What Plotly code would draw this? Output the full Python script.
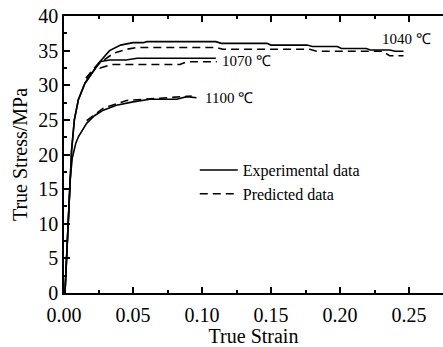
import plotly.graph_objects as go

# 1040 °C
strain_1040_exp = [0.0007, 0.0055, 0.0075, 0.0104, 0.0152, 0.0212, 0.026, 0.033, 0.041, 0.05, 0.0575,
                   0.06, 0.11, 0.114, 0.147, 0.15, 0.176, 0.18, 0.198, 0.201, 0.219, 0.222, 0.236, 0.24, 0.246]
stress_1040_exp = [0, 20.6, 25.0, 27.9, 30.3, 32.0, 33.4, 35.0, 35.8, 36.15, 36.15,
                   36.3, 36.3, 36.05, 36.05, 35.8, 35.8, 35.6, 35.6, 35.3, 35.3, 35.1, 35.1, 34.9, 34.9]
strain_1040_pred = [0.016, 0.021, 0.026, 0.0357, 0.0454, 0.0527, 0.1107, 0.115, 0.178, 0.183, 0.231, 0.236, 0.246]
stress_1040_pred = [31.0, 32.3, 33.2, 34.6, 35.2, 35.45, 35.45, 35.2, 35.2, 34.9, 34.9, 34.25, 34.25]

# 1070 °C
strain_1070_exp = [0.0007, 0.0055, 0.0075, 0.0104, 0.0152, 0.0212, 0.026, 0.033, 0.045, 0.053, 0.11]
stress_1070_exp = [0, 20.6, 25.0, 27.9, 30.3, 32.0, 33.4, 33.65, 33.65, 33.9, 33.9]
strain_1070_pred = [0.016, 0.021, 0.0255, 0.0262, 0.0346, 0.084, 0.089, 0.1107]
stress_1070_pred = [31.0, 32.3, 33.3, 32.5, 33.0, 33.0, 33.4, 33.4]

# 1100 °C
strain_1100_exp = [0.0007, 0.0045, 0.006, 0.0085, 0.0105, 0.0164, 0.022, 0.0285, 0.038, 0.05, 0.0623,
                   0.0817, 0.089, 0.096]
stress_1100_exp = [0, 16.5, 19.5, 21.6, 22.6, 24.5, 25.6, 26.4, 27.1, 27.6, 27.97, 27.97, 28.35, 28.2]
strain_1100_pred = [0.0164, 0.0285, 0.0454, 0.0647, 0.0768, 0.0865, 0.0925]
stress_1100_pred = [24.9, 26.7, 27.8, 28.1, 28.2, 28.45, 28.45]

labels = ["1040 ℃", "1070 ℃", "1100 ℃"]
label_x = [0.229, 0.113, 0.1005]
label_y = [36.7, 33.5, 28.2]

FONT = "Liberation Serif, Times New Roman, serif"
DASH = "8px,5px"
LW = 1.6

fig = go.Figure()
curves = [
    (strain_1040_exp, stress_1040_exp, "solid"),
    (strain_1070_exp, stress_1070_exp, "solid"),
    (strain_1100_exp, stress_1100_exp, "solid"),
    (strain_1040_pred, stress_1040_pred, DASH),
    (strain_1070_pred, stress_1070_pred, DASH),
    (strain_1100_pred, stress_1100_pred, DASH),
]
for xs, ys, d in curves:
    fig.add_trace(go.Scatter(x=xs, y=ys, mode="lines", showlegend=False,
                             line=dict(color="black", width=LW, dash=d)))

# legend entries
fig.add_trace(go.Scatter(x=[None], y=[None], mode="lines", name="Experimental data",
                         line=dict(color="black", width=LW, dash="solid")))
fig.add_trace(go.Scatter(x=[None], y=[None], mode="lines", name="Predicted data",
                         line=dict(color="black", width=LW, dash=DASH)))

for t, x, y in zip(labels, label_x, label_y):
    fig.add_annotation(x=x, y=y, text=t, showarrow=False, xanchor="left", yanchor="middle",
                       font=dict(family=FONT, size=15, color="black"))

fig.update_layout(
    width=443, height=347,
    margin=dict(l=64, r=0, t=16, b=54),
    paper_bgcolor="white", plot_bgcolor="white",
    font=dict(family=FONT, color="black"),
    legend=dict(x=0.345, y=0.505, xanchor="left", yanchor="top", itemwidth=38,
                font=dict(family=FONT, size=16, color="black"),
                bgcolor="rgba(0,0,0,0)", tracegroupgap=0),
)
fig.update_xaxes(
    range=[0, 0.2746], tickvals=[0, 0.05, 0.10, 0.15, 0.20, 0.25],
    ticktext=["0.00", "0.05", "0.10", "0.15", "0.20", "0.25"],
    ticks="inside", ticklen=6, tickwidth=1.5, tickcolor="black",
    minor=dict(dtick=0.025, tick0=0, ticks="inside", ticklen=3, tickwidth=1.5, tickcolor="black"),
    showline=True, linecolor="black", linewidth=1.5, mirror="ticks",
    showgrid=False, zeroline=False, ticklabelstandoff=3,
    tickfont=dict(family=FONT, size=20, color="black"),
    title=dict(text="True Strain", font=dict(family=FONT, size=20, color="black"), standoff=5),
)
fig.update_yaxes(
    range=[0, 40], dtick=5, tick0=0,
    ticks="inside", ticklen=6, tickwidth=1.5, tickcolor="black",
    minor=dict(dtick=2.5, tick0=0, ticks="inside", ticklen=3, tickwidth=1.5, tickcolor="black"),
    showline=True, linecolor="black", linewidth=1.5, mirror=False,
    showgrid=False, zeroline=False,
    tickfont=dict(family=FONT, size=20, color="black"),
    title=dict(text="True Stress/MPa", font=dict(family=FONT, size=20, color="black"), standoff=5),
)

fig.write_html("out.html")
